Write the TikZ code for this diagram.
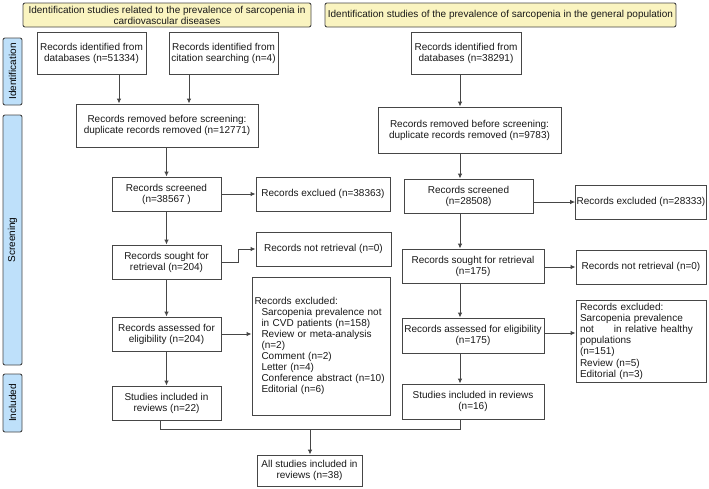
\documentclass[tikz,border=0pt]{standalone}
\usepackage{fontspec}
\setmainfont{Liberation Sans}
\usetikzlibrary{arrows.meta}
\definecolor{ttlfill}{RGB}{250,244,192}
\definecolor{barfill}{RGB}{190,224,250}
\definecolor{edge}{RGB}{70,70,70}
\tikzset{
  box/.style={draw=edge, line width=0.9pt, fill=white, inner sep=1pt, align=center,
    font=\fontsize{10}{11}\selectfont, text=black!90},
  ttl/.style={box, fill=ttlfill, rounded corners=2pt},
  bar/.style={draw=edge, line width=0.9pt, fill=barfill, rounded corners=2pt, inner sep=0pt,
    font=\fontsize{10}{11}\selectfont},
  conn/.style={draw=edge, line width=0.9pt},
  arr/.style={conn, -{Latex[length=5pt,width=4.5pt]}},
}
\newcommand{\bx}[6]{% name, style, cx, cy, w, h
  \node[#2, minimum width=#5pt, minimum height=#6pt] (#1) at (#3,#4)}
\begin{document}
\begin{tikzpicture}[x=1pt,y=-1pt]
\useasboundingbox (0,0) rectangle (709,488);
% titles
\bx{tl}{ttl}{167}{15}{288}{24} {Identification studies related to the prevalence of sarcopenia in\\cardiovascular diseases};
\bx{tr}{ttl}{500.5}{15}{351}{24} {Identification studies of the prevalence of sarcopenia in the general population};
% side bars
\bx{sid}{bar}{12.5}{71.5}{19}{67} {};
\node[rotate=90, font=\fontsize{10}{11}\selectfont] (sidt) at (sid.center) {Identification};
\bx{sscr}{bar}{12.5}{240}{19}{250} {};
\node[rotate=90, font=\fontsize{10}{11}\selectfont] (sscrt) at (sscr.center) {Screening};
\bx{sinc}{bar}{12.5}{403}{19}{58} {};
\node[rotate=90, font=\fontsize{10}{11}\selectfont] (sinct) at (sinc.center) {Included};
% left column
\bx{ldb}{box}{91.5}{53}{109}{42} {Records identified from\\databases (n=51334)};
\bx{lcit}{box}{223.5}{53}{109}{42} {Records identified from\\citation searching (n=4)};
\bx{lrem}{box}{167}{125.5}{182}{43} {Records removed before screening:\\duplicate records removed (n=12771)};
\bx{lscr}{box}{166.5}{194}{109}{34} {Records screened\\(n=38567 )};
\bx{lexc}{box}{323}{194}{134}{34} {Records exclued (n=38363)};
\bx{lsou}{box}{166.5}{262}{109}{34} {Records sought for\\retrieval (n=204)};
\bx{lnr}{box}{323.5}{249}{135}{34} {Records not retrieval (n=0)};
\bx{lass}{box}{166.5}{334}{109}{34} {Records assessed for\\eligibility (n=204)};
\node[box, minimum width=138pt, minimum height=138pt, align=left, text width=133pt] (lex2) at (321,346)
  {Records excluded:\\
   \hspace*{7pt}Sarcopenia prevalence not\\
   \hspace*{7pt}in CVD patients (n=158)\\
   \hspace*{7pt}Review or meta-analysis\\
   \hspace*{7pt}(n=2)\\
   \hspace*{7pt}Comment (n=2)\\
   \hspace*{7pt}Letter (n=4)\\
   \hspace*{7pt}Conference abstract (n=10)\\
   \hspace*{7pt}Editorial (n=6)};
\bx{linc}{box}{166.5}{403}{109}{34} {Studies included in\\reviews (n=22)};
\bx{fin}{box}{309.5}{470.5}{105}{31} {All studies included in\\reviews (n=38)};
% right column
\bx{rdb}{box}{466}{53}{110}{42} {Records identified from\\databases (n=38291)};
\bx{rrem}{box}{469.5}{130}{183}{46} {Records removed before screening:\\duplicate records removed (n=9783)};
\bx{rscr}{box}{468.5}{196}{129}{34} {Records screened\\(n=28508)};
\bx{rexc}{box}{641}{202}{130}{34} {Records excluded (n=28333)};
\bx{rsou}{box}{473}{266}{142}{34} {Records sought for retrieval\\(n=175)};
\bx{rnr}{box}{641}{267}{130}{34} {Records not retrieval (n=0)};
\bx{rass}{box}{473}{335.5}{142}{35} {Records assessed for eligibility\\(n=175)};
\node[box, minimum width=130pt, minimum height=82pt, align=left, text width=122pt] (rex2) at (641,341)
  {Records excluded:\\
   Sarcopenia prevalence\\
   not\hspace{20pt}in relative healthy\\
   populations\\
   (n=151)\\[1pt]
   Review (n=5)\\
   Editorial (n=3)};
\bx{rinc}{box}{473}{401.5}{142}{35} {Studies included in reviews\\(n=16)};
% coordinates
\coordinate (lx) at (166.5,0);
\coordinate (la) at (119,0);
\coordinate (lb) at (189,0);
\coordinate (rx) at (460,0);
\coordinate (mx) at (160,0);
\coordinate (ry) at (0,333);
\coordinate (lbend1) at (238,262);
\coordinate (lbend2) at (238,249);
\coordinate (mid) at (310,429);
\coordinate (mleft) at (160,429);
\coordinate (mright) at (460,429);
% left connectors
\draw[arr] (ldb.south -| la) -- (lrem.north -| la);
\draw[arr] (lcit.south -| lb) -- (lrem.north -| lb);
\draw[arr] (lrem.south -| lx) -- (lscr.north -| lx);
\draw[arr] (lscr) -- (lexc);
\draw[arr] (lscr.south -| lx) -- (lsou.north -| lx);
\draw[arr] (lsou.east) -- (lbend1) -- (lbend2) -- (lnr.west);
\draw[arr] (lsou.south -| lx) -- (lass.north -| lx);
\draw[arr] (lass.east) -- (lex2.west |- lass.east);
\draw[arr] (lass.south -| lx) -- (linc.north -| lx);
% right connectors
\draw[arr] (rdb.south -| rx) -- (rrem.north -| rx);
\draw[arr] (rrem.south -| rx) -- (rscr.north -| rx);
\draw[arr] (rscr.east |- rexc.west) -- (rexc.west);
\draw[arr] (rscr.south -| rx) -- (rsou.north -| rx);
\draw[arr] (rsou.east |- rnr.west) -- (rnr.west);
\draw[arr] (rsou.south -| rx) -- (rass.north -| rx);
\draw[arr] (rass.east |- ry) -- (rex2.west |- ry);
\draw[arr] (rass.south -| rx) -- (rinc.north -| rx);
% merge
\draw[conn] (linc.south -| mx) -- (mleft) -- (mright) -- (rinc.south -| rx);
\draw[arr] (mid) -- (fin.north -| mid);
\end{tikzpicture}
\end{document}
